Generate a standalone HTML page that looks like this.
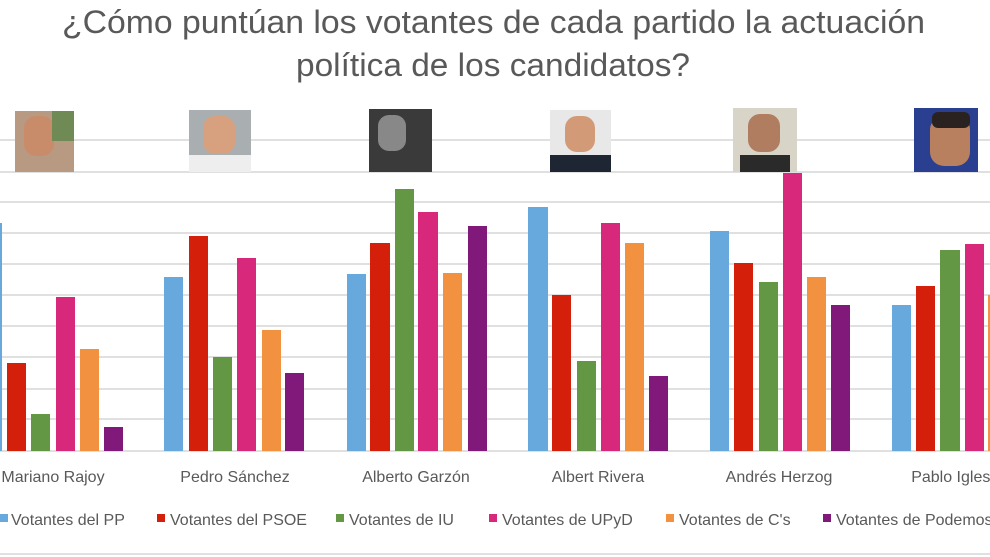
<!DOCTYPE html>
<html><head><meta charset="utf-8"><style>
html,body{margin:0;padding:0;background:#fff;}
svg{display:block;font-family:"Liberation Sans",sans-serif;}
</style></head><body>
<svg width="990" height="557" viewBox="0 0 990 557" xmlns="http://www.w3.org/2000/svg">
<rect width="990" height="557" fill="#fff"/>
<g font-size="32" fill="#595959">
<text x="62" y="33" textLength="863" lengthAdjust="spacingAndGlyphs">¿Cómo puntúan los votantes de cada partido la actuación</text>
<text x="296" y="76" textLength="394" lengthAdjust="spacingAndGlyphs">política de los candidatos?</text>
</g>
<g stroke="#e0e0e0" stroke-width="2">
<line x1="0" y1="140" x2="990" y2="140"/>
<line x1="0" y1="172" x2="990" y2="172"/>
<line x1="0" y1="202" x2="990" y2="202"/>
<line x1="0" y1="233" x2="990" y2="233"/>
<line x1="0" y1="264" x2="990" y2="264"/>
<line x1="0" y1="295" x2="990" y2="295"/>
<line x1="0" y1="326" x2="990" y2="326"/>
<line x1="0" y1="357" x2="990" y2="357"/>
<line x1="0" y1="389" x2="990" y2="389"/>
<line x1="0" y1="419" x2="990" y2="419"/>
<line x1="0" y1="451" x2="990" y2="451"/>
<line x1="0" y1="554" x2="990" y2="554"/>
</g>
<g>
<rect x="15" y="111" width="59" height="61" fill="#b89a82"/><rect x="24" y="116" width="30" height="40" fill="#c98c6a" rx="12"/><rect x="52" y="111" width="22" height="30" fill="#6f8a55"/>
<rect x="189" y="110" width="62" height="62" fill="#a9aeb0"/><rect x="203" y="116" width="32" height="38" fill="#d7a07e" rx="12"/><rect x="189" y="155" width="62" height="17" fill="#eeeeee"/>
<rect x="369" y="109" width="63" height="63" fill="#3a3a3a"/><rect x="378" y="115" width="28" height="36" fill="#888" rx="11"/>
<rect x="550" y="110" width="61" height="62" fill="#e8e8e8"/><rect x="565" y="116" width="30" height="36" fill="#d39a77" rx="12"/><rect x="550" y="155" width="61" height="17" fill="#1e2633"/>
<rect x="733" y="108" width="64" height="64" fill="#d8d4c8"/><rect x="748" y="114" width="32" height="38" fill="#b07d60" rx="12"/><rect x="740" y="155" width="50" height="17" fill="#2a2a2a"/>
<rect x="914" y="108" width="64" height="64" fill="#2a3f8f"/><rect x="930" y="116" width="40" height="50" fill="#b98060" rx="14"/><rect x="932" y="112" width="38" height="16" fill="#2a2220" rx="6"/>
</g>
<g>
<rect x="-17" y="223" width="19" height="228" fill="#67a9dd"/>
<rect x="7" y="363" width="19" height="88" fill="#d41f0b"/>
<rect x="31" y="414" width="19" height="37" fill="#639744"/>
<rect x="56" y="297" width="19" height="154" fill="#d7287b"/>
<rect x="80" y="349" width="19" height="102" fill="#f29140"/>
<rect x="104" y="427" width="19" height="24" fill="#80197a"/>
<rect x="164" y="277" width="19" height="174" fill="#67a9dd"/>
<rect x="189" y="236" width="19" height="215" fill="#d41f0b"/>
<rect x="213" y="357" width="19" height="94" fill="#639744"/>
<rect x="237" y="258" width="19" height="193" fill="#d7287b"/>
<rect x="262" y="330" width="19" height="121" fill="#f29140"/>
<rect x="285" y="373" width="19" height="78" fill="#80197a"/>
<rect x="347" y="274" width="19" height="177" fill="#67a9dd"/>
<rect x="370" y="243" width="20" height="208" fill="#d41f0b"/>
<rect x="395" y="189" width="19" height="262" fill="#639744"/>
<rect x="418" y="212" width="20" height="239" fill="#d7287b"/>
<rect x="443" y="273" width="19" height="178" fill="#f29140"/>
<rect x="468" y="226" width="19" height="225" fill="#80197a"/>
<rect x="528" y="207" width="20" height="244" fill="#67a9dd"/>
<rect x="552" y="295" width="19" height="156" fill="#d41f0b"/>
<rect x="577" y="361" width="19" height="90" fill="#639744"/>
<rect x="601" y="223" width="19" height="228" fill="#d7287b"/>
<rect x="625" y="243" width="19" height="208" fill="#f29140"/>
<rect x="649" y="376" width="19" height="75" fill="#80197a"/>
<rect x="710" y="231" width="19" height="220" fill="#67a9dd"/>
<rect x="734" y="263" width="19" height="188" fill="#d41f0b"/>
<rect x="759" y="282" width="19" height="169" fill="#639744"/>
<rect x="783" y="173" width="19" height="278" fill="#d7287b"/>
<rect x="807" y="277" width="19" height="174" fill="#f29140"/>
<rect x="831" y="305" width="19" height="146" fill="#80197a"/>
<rect x="892" y="305" width="19" height="146" fill="#67a9dd"/>
<rect x="916" y="286" width="19" height="165" fill="#d41f0b"/>
<rect x="940" y="250" width="20" height="201" fill="#639744"/>
<rect x="965" y="244" width="19" height="207" fill="#d7287b"/>
<rect x="988" y="295" width="19" height="156" fill="#f29140"/>
</g>
<g font-size="16" fill="#595959" text-anchor="middle">
<text x="53" y="482">Mariano Rajoy</text>
<text x="235" y="482">Pedro Sánchez</text>
<text x="416" y="482">Alberto Garzón</text>
<text x="598" y="482">Albert Rivera</text>
<text x="779" y="482">Andrés Herzog</text>
<text x="961" y="482">Pablo Iglesias</text>
</g>
<g font-size="16" fill="#595959">
<rect x="0" y="514" width="8" height="8" fill="#67a9dd"/><text x="11" y="525">Votantes del PP</text>
<rect x="157" y="514" width="8" height="8" fill="#d41f0b"/><text x="170" y="525">Votantes del PSOE</text>
<rect x="336" y="514" width="8" height="8" fill="#639744"/><text x="349" y="525">Votantes de IU</text>
<rect x="489" y="514" width="8" height="8" fill="#d7287b"/><text x="502" y="525">Votantes de UPyD</text>
<rect x="666" y="514" width="8" height="8" fill="#f29140"/><text x="679" y="525">Votantes de C's</text>
<rect x="823" y="514" width="8" height="8" fill="#80197a"/><text x="836" y="525">Votantes de Podemos</text>
</g>
</svg>
</body></html>
